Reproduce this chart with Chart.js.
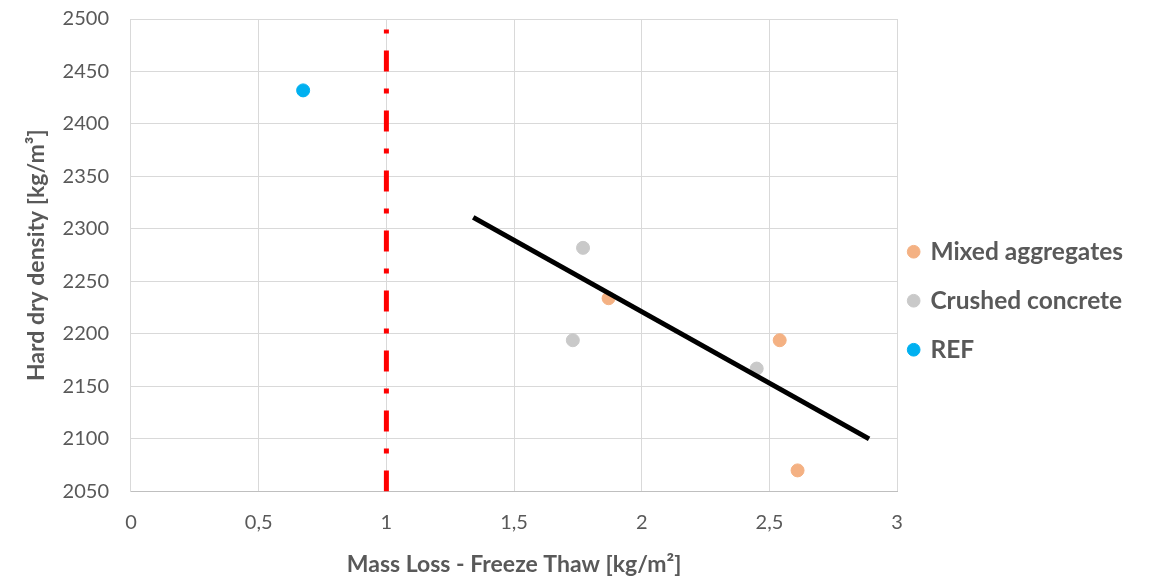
<!DOCTYPE html>
<html>
<head>
<meta charset="utf-8">
<script src="https://cdn.jsdelivr.net/npm/chart.js@4"></script>
<style>
    html, body { margin: 0; padding: 0; background: #fff; }
    #wrap { width: 1151px; height: 578px; }
</style>
</head>
<body>
<div id="wrap"><canvas id="chart" width="1151" height="578"></canvas></div>
<script>
// values
const mixedX = [1.87, 2.54, 2.61];
const mixedY = [2234, 2194, 2070];
const crushedX = [1.77, 1.73, 2.45];
const crushedY = [2282, 2194, 2167];
const refX = [0.674];
const refY = [2432];
const trendX = [1.34, 2.89];
const trendY = [2311, 2100];
const limitX = [1, 1];
const limitY = [2050, 2490];
const xTickLabels = ['0', '0,5', '1', '1,5', '2', '2,5', '3'];

const FONT = 'Lato, "Open Sans", sans-serif';
const TEXT = '#595959';

function toPoints(xs, ys) {
    return xs.map((x, i) => ({ x: x, y: ys[i] }));
}

// text as a one-line array so the legend row height follows font.lineHeight
function legendLabels(chart) {
    const items = Chart.defaults.plugins.legend.labels.generateLabels(chart);
    items.forEach(item => { item.text = [item.text]; });
    return items;
}

const ctx = document.getElementById('chart').getContext('2d');
new Chart(ctx, {
    type: 'scatter',
    data: {
        datasets: [
            {
                label: 'Mixed aggregates',
                data: toPoints(mixedX, mixedY),
                backgroundColor: '#F4B183',
                borderColor: '#F4B183',
                pointRadius: 6.5,
                order: 2
            },
            {
                label: 'Crushed concrete',
                data: toPoints(crushedX, crushedY),
                backgroundColor: '#C9C9C9',
                borderColor: '#C9C9C9',
                pointRadius: 6.5,
                order: 2
            },
            {
                label: 'REF',
                data: toPoints(refX, refY),
                backgroundColor: '#00B0F0',
                borderColor: '#00B0F0',
                pointRadius: 6.5,
                order: 2
            },
            {
                label: 'trend',
                data: toPoints(trendX, trendY),
                showLine: true,
                borderColor: '#000',
                borderWidth: 5,
                pointRadius: 0,
                order: 0
            },
            {
                label: 'limit',
                data: toPoints(limitX, limitY),
                showLine: true,
                borderColor: '#FF0000',
                borderWidth: 5,
                borderDash: [21, 17, 5, 17],
                pointRadius: 0,
                order: 1
            }
        ]
    },
    options: {
        responsive: false,
        animation: false,
        layout: { padding: { left: 23, right: 18, top: 0, bottom: 0 } },
        plugins: {
            tooltip: { enabled: false },
            legend: {
                position: 'right',
                title: { display: true, text: ' ', padding: { top: 24, bottom: 0 }, font: { size: 10 } },
                labels: {
                    generateLabels: legendLabels,
                    filter: (item) => item.datasetIndex < 3,
                    usePointStyle: true,
                    boxWidth: 9,
                    boxHeight: 9,
                    color: TEXT,
                    padding: 12,
                    font: { family: FONT, size: 24.5, weight: 'bold', lineHeight: '37px' }
                }
            }
        },
        scales: {
            x: {
                type: 'linear',
                min: 0,
                max: 3,
                ticks: {
                    stepSize: 0.5,
                    color: TEXT,
                    padding: 19,
                    font: { family: FONT, size: 20 },
                    callback: (v) => xTickLabels[Math.round(v * 2)]
                },
                grid: { color: '#D9D9D9', drawTicks: false },
                border: { color: '#BFBFBF' },
                title: {
                    display: true,
                    text: 'Mass Loss - Freeze Thaw [kg/m²]',
                    color: TEXT,
                    padding: { top: -3, bottom: 0 },
                    font: { family: FONT, size: 23, weight: 'bold' }
                }
            },
            y: {
                min: 2050,
                max: 2500,
                ticks: {
                    stepSize: 50,
                    color: TEXT,
                    padding: 7,
                    font: { family: FONT, size: 20 },
                    callback: (v) => String(v)
                },
                grid: { color: '#D9D9D9', drawTicks: true, tickLength: 15, tickColor: 'rgba(0,0,0,0)' },
                border: { color: '#D9D9D9' },
                title: {
                    display: true,
                    text: 'Hard dry density [kg/m³]',
                    color: TEXT,
                    padding: { top: 0, bottom: 5 },
                    font: { family: FONT, size: 23, weight: 'bold' }
                }
            }
        }
    }
});
</script>
</body>
</html>
